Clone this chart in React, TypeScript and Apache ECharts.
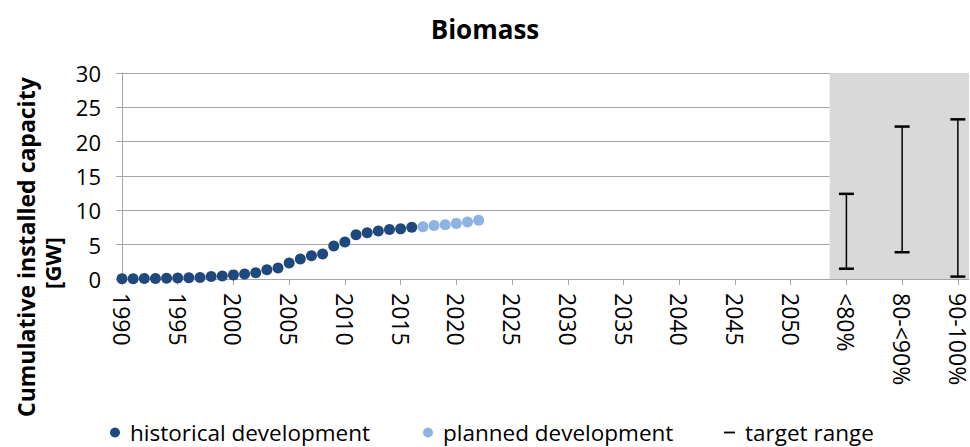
import React, { useEffect, useRef } from "react";
import * as echarts from "echarts";

const histYears = [1990, 1991, 1992, 1993, 1994, 1995, 1996, 1997, 1998, 1999, 2000, 2001, 2002, 2003, 2004, 2005, 2006, 2007, 2008, 2009, 2010, 2011, 2012, 2013, 2014, 2015, 2016];
const histValues = [0.05, 0.05, 0.06, 0.08, 0.1, 0.15, 0.17, 0.22, 0.35, 0.45, 0.6, 0.73, 0.92, 1.36, 1.6, 2.33, 2.9, 3.4, 3.65, 4.8, 5.4, 6.45, 6.75, 7.0, 7.2, 7.3, 7.55];
const planYears = [2017, 2018, 2019, 2020, 2021, 2022];
const planValues = [7.6, 7.8, 7.9, 8.1, 8.3, 8.55];
const targetLabels = ["<80%", "80-<90%", "90-100%"];
const targetSlots = [2055, 2060, 2065];
const targetLow = [1.5, 3.9, 0.35];
const targetHigh = [12.4, 22.2, 23.25];
const yearTicks = [1990, 1995, 2000, 2005, 2010, 2015, 2020, 2025, 2030, 2035, 2040, 2045, 2050];

const FONT = "'Open Sans', 'Noto Sans', sans-serif";

export default function App() {
  const ref = useRef<HTMLDivElement>(null);
  useEffect(() => {
    if (!ref.current) return;
    const chart = echarts.init(ref.current, undefined, { renderer: "svg" });
    const allTicks = [...yearTicks, ...targetSlots];
    const labelMap: Record<number, string> = {};
    targetSlots.forEach((s, i) => (labelMap[s] = targetLabels[i]));
    const legendText = { fontSize: 22.5, fontFamily: FONT, color: "#000", padding: [0, 0, 0, 5] };
    chart.setOption({
      animation: false,
      backgroundColor: "#ffffff",
      textStyle: { fontFamily: FONT },
      title: {
        text: "Biomass",
        left: "center",
        top: 11,
        textStyle: { fontFamily: FONT, fontSize: 26, fontWeight: "bold", color: "#000" },
      },
      grid: { left: 122, right: 1, top: 73, bottom: 168 },
      xAxis: {
        type: "value",
        min: 1990,
        max: 2066,
        interval: 5,
        axisLine: { show: true, lineStyle: { color: "#A6A6A6", width: 1 } },
        axisTick: { show: true, length: 6, lineStyle: { color: "#A6A6A6" }, customValues: allTicks },
        splitLine: { show: false },
        axisLabel: {
          customValues: allTicks,
          rotate: -90,
          margin: 14,
          fontSize: 23,
          fontFamily: FONT,
          color: "#000",
          formatter: (v: number) => labelMap[v] ?? String(v),
        },
      },
      yAxis: {
        type: "value",
        min: 0,
        max: 30,
        interval: 5,
        axisLine: { show: true, lineStyle: { color: "#A6A6A6", width: 1 } },
        axisTick: { show: true, length: 6, lineStyle: { color: "#A6A6A6" } },
        splitLine: { show: true, lineStyle: { color: "#A6A6A6", width: 1 } },
        axisLabel: { fontSize: 22, fontFamily: FONT, color: "#000", margin: 21 },
      },
      graphic: [
        {
          type: "text",
          x: 26,
          y: 417,
          rotation: Math.PI / 2,
          style: {
            text: "Cumulative installed capacity",
            font: "bold 23px \"Open Sans\"",
            fill: "#000",
            textAlign: "left",
            textVerticalAlign: "middle",
          },
        },
        {
          type: "text",
          x: 52,
          y: 263,
          rotation: Math.PI / 2,
          style: {
            text: "[GW]",
            font: "bold 22px \"Open Sans\"",
            fill: "#000",
            textAlign: "center",
            textVerticalAlign: "middle",
          },
        },
      ],
      legend: [
        {
          data: [{ name: "historical development", icon: "circle" }],
          left: 110,
          top: 421,
          padding: 0,
          itemWidth: 10,
          itemHeight: 10,
          textStyle: legendText,
        },
        {
          data: [{ name: "planned development", icon: "circle" }],
          left: 423,
          top: 421,
          padding: 0,
          itemWidth: 10,
          itemHeight: 10,
          textStyle: legendText,
        },
        {
          data: [{ name: "target range", icon: "path://M0,0 L12,0 L12,2 L0,2 Z" }],
          left: 724,
          top: 421,
          padding: 0,
          itemWidth: 11,
          itemHeight: 10,
          textStyle: legendText,
        },
      ],
      series: [
        {
          type: "line",
          name: "panel",
          data: [],
          z: 1,
          silent: true,
          markArea: {
            silent: true,
            itemStyle: { color: "#D9D9D9" },
            data: [[{ xAxis: 2053.5, yAxis: 0 }, { xAxis: 2066, yAxis: 30 }]],
          },
        },
        {
          type: "scatter",
          name: "historical development",
          symbol: "circle",
          symbolSize: 11,
          itemStyle: { color: "#1F497D", opacity: 1 },
          z: 3,
          data: histYears.map((y, i) => [y, histValues[i]]),
        },
        {
          type: "scatter",
          name: "planned development",
          symbol: "circle",
          symbolSize: 11,
          itemStyle: { color: "#8DB3E2", opacity: 1 },
          z: 3,
          data: planYears.map((y, i) => [y, planValues[i]]),
        },
        {
          type: "custom",
          name: "target range",
          itemStyle: { color: "#000" },
          z: 4,
          data: targetSlots.map((s, i) => [s, targetLow[i], targetHigh[i]]),
          renderItem: (params: any, api: any) => {
            const x = api.value(0);
            const lo = api.coord([x, api.value(1)]);
            const hi = api.coord([x, api.value(2)]);
            const hw = 7.5;
            return {
              type: "group",
              children: [
                { type: "line", shape: { x1: lo[0], y1: lo[1], x2: hi[0], y2: hi[1] }, style: { stroke: "#000", lineWidth: 1.5 } },
                { type: "line", shape: { x1: lo[0] - hw, y1: lo[1], x2: lo[0] + hw, y2: lo[1] }, style: { stroke: "#000", lineWidth: 2.5 } },
                { type: "line", shape: { x1: hi[0] - hw, y1: hi[1], x2: hi[0] + hw, y2: hi[1] }, style: { stroke: "#000", lineWidth: 2.5 } },
              ],
            };
          },
        },
      ],
    });
    return () => chart.dispose();
  }, []);
  return <div ref={ref} style={{ position: "absolute", left: 0, top: 0, width: 970, height: 447 }} />;
}
